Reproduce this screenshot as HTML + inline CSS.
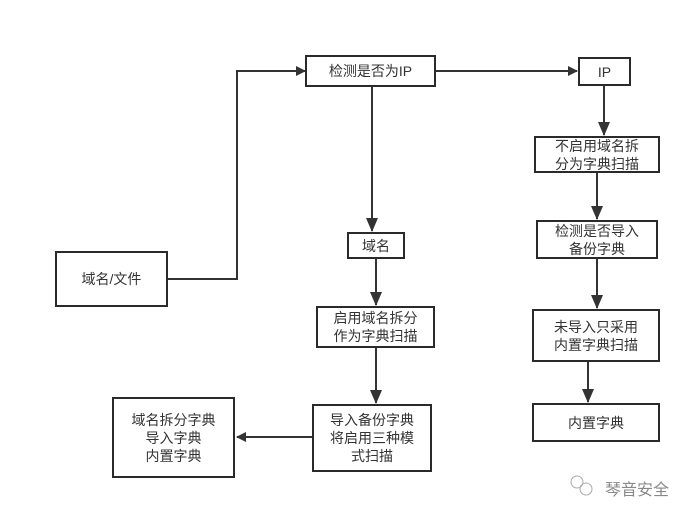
<!DOCTYPE html>
<html><head><meta charset="utf-8"><style>
html,body{margin:0;padding:0;background:#fff;width:692px;height:515px;overflow:hidden}
.b{position:absolute;box-sizing:border-box;border:2px solid #2a2a2a;background:#fff;display:flex;align-items:center;justify-content:center;text-align:center;font-family:"Liberation Sans","Noto Sans CJK SC",sans-serif;font-size:14px;line-height:18px;color:#333}
svg{position:absolute;left:0;top:0}
.w{position:absolute;left:605px;top:476px;font-family:"Liberation Sans","Noto Sans CJK SC",sans-serif;font-size:16px;color:#888}
</style></head><body>
<svg width="692" height="515">
<defs><marker id="a" markerWidth="10" markerHeight="10" refX="9" refY="5" orient="auto" markerUnits="userSpaceOnUse"><path d="M0,0 L10,5 L0,10 z" fill="#333"/></marker>
<marker id="v" markerWidth="12" markerHeight="14" refX="6" refY="13" orient="0" markerUnits="userSpaceOnUse"><path d="M0,0 L12,0 L6,14 z" fill="#333"/></marker></defs>
<g stroke="#333" stroke-width="2" fill="none">
<polyline points="168,279 237,279 237,71 305,71" marker-end="url(#a)"/>
<line x1="436" y1="71" x2="577" y2="71" marker-end="url(#a)"/>
<line x1="372" y1="87" x2="372" y2="231" marker-end="url(#v)"/>
<line x1="604" y1="86" x2="604" y2="135" marker-end="url(#v)"/>
<line x1="597" y1="173" x2="597" y2="219" marker-end="url(#v)"/>
<line x1="597" y1="259" x2="597" y2="308" marker-end="url(#v)"/>
<line x1="588" y1="362" x2="588" y2="402" marker-end="url(#v)"/>
<line x1="376" y1="259" x2="376" y2="305" marker-end="url(#v)"/>
<line x1="376" y1="348" x2="376" y2="403" marker-end="url(#v)"/>
<line x1="312" y1="437" x2="237" y2="437" marker-end="url(#a)"/>
</g>
<g fill="none" stroke="#aaa" stroke-width="1"><circle cx="577" cy="482" r="6"/><circle cx="586" cy="489" r="6"/></g>
</svg>
<div class="b" style="left:305px;top:55px;width:131px;height:32px">检测是否为IP</div>
<div class="b" style="left:578px;top:57px;width:53px;height:29px">IP</div>
<div class="b" style="left:534px;top:136px;width:126px;height:37px">不启用域名拆<br>分为字典扫描</div>
<div class="b" style="left:536px;top:220px;width:122px;height:39px">检测是否导入<br>备份字典</div>
<div class="b" style="left:347px;top:232px;width:58px;height:27px">域名</div>
<div class="b" style="left:55px;top:251px;width:113px;height:56px">域名/文件</div>
<div class="b" style="left:316px;top:306px;width:119px;height:42px">启用域名拆分<br>作为字典扫描</div>
<div class="b" style="left:532px;top:309px;width:128px;height:53px">未导入只采用<br>内置字典扫描</div>
<div class="b" style="left:532px;top:403px;width:128px;height:39px">内置字典</div>
<div class="b" style="left:312px;top:404px;width:120px;height:68px">导入备份字典<br>将启用三种模<br>式扫描</div>
<div class="b" style="left:112px;top:397px;width:123px;height:81px">域名拆分字典<br>导入字典<br>内置字典</div>
<div class="w">琴音安全</div>
</body></html>
